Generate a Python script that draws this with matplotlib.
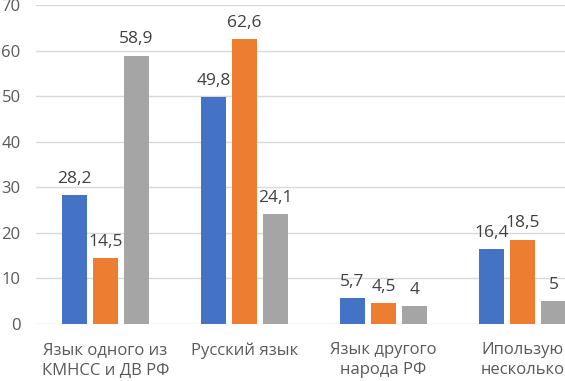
import matplotlib
matplotlib.use("Agg")
import matplotlib.pyplot as plt
import numpy as np

categories = ["Язык одного из\nКМНСС и ДВ РФ", "Русский язык", "Язык другого\nнарода РФ", "Ипользую\nнесколько"]
s1 = [28.2, 49.8, 5.7, 16.4]
s2 = [14.5, 62.6, 4.5, 18.5]
s3 = [58.9, 24.1, 4.0, 5.0]
colors = ["#4472C4", "#ED7D31", "#A5A5A5"]

plt.rcParams['font.family'] = ['Open Sans', 'DejaVu Sans']

fig = plt.figure(figsize=(5.65, 3.81), dpi=100)
W = 565.0
left = 36 / W
right = (36 + 4 * 139) / W
ax = fig.add_axes([left, 57 / 381, right - left, (324 - 5) / 381])

x = np.arange(len(categories))
bw = 0.173
step = 0.223
for i, (vals, c) in enumerate(zip([s1, s2, s3], colors)):
    xs = x + (i - 1) * step
    ax.bar(xs, vals, width=bw, color=c, zorder=3)
    for xi, v in zip(xs, vals):
        lab = ("%g" % v).replace(".", ",")
        ax.text(xi, v + 1.8, lab, ha="center", va="bottom", fontsize=12.5, color="#404040")

ax.set_xlim(-0.5, 3.5)
ax.set_ylim(0, 70)
ax.set_yticks(range(0, 71, 10))
ax.grid(axis="y", color="#D9D9D9", linewidth=1, zorder=0)
for s in ax.spines.values():
    s.set_visible(False)
ax.tick_params(axis="both", length=0, labelsize=12, labelcolor="#595959")
ax.tick_params(axis="y", pad=11)
ax.tick_params(axis="x", pad=13)
ax.set_xticks(x)
ax.set_xticklabels(categories, linespacing=1.3)

fig.savefig("out.png", dpi=100)
